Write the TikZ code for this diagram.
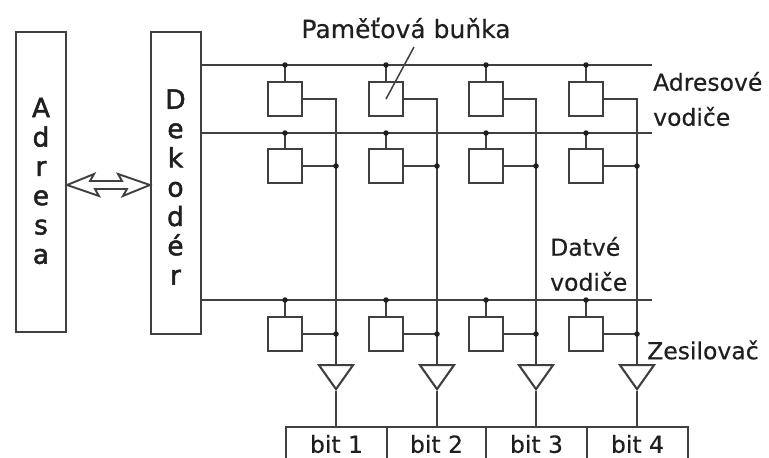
\documentclass[tikz,border=0pt]{standalone}
\usepackage{fontspec}
\setmainfont[FakeBold=0.35]{DejaVu Sans}
\newfontfamily\heavy[FakeBold=1.8]{DejaVu Sans}
\usetikzlibrary{shapes.geometric}
\colorlet{linegray}{black!75}
\tikzset{
    wire/.style={draw=linegray,line width=2.1pt},
    column/.style={wire,anchor=north,minimum width=50,inner sep=0},
    letters/.style={inner sep=0,align=center,text=black!88,font=\heavy\fontsize{26.5}{29.3}\selectfont},
    cell/.style={wire,minimum size=34,inner sep=0},
    dot/.style={circle,fill=black!88,inner sep=0,minimum size=5.5},
    amp/.style={wire,isosceles triangle,isosceles triangle apex angle=70,isosceles triangle stretches,
        shape border rotate=-90,inner sep=0,minimum width=34,minimum height=24,anchor=apex},
    bitbox/.style={wire,anchor=north,minimum height=34,inner sep=0,text=black!88,font=\fontsize{23.5}{28}\selectfont},
    lbl/.style={anchor=west,inner sep=0,align=left,text=black!88,font=\fontsize{23.5}{35}\selectfont}
}
\begin{document}
\begin{tikzpicture}[x=1pt,y=-1pt]
    \useasboundingbox (0,0) rectangle (769,458);

    \node[column,minimum height=300] (adresa) at (41,31) {};
    \node[column,minimum height=302] (dekoder) at (176,31) {};
    \node[letters] (adresatext) at (41,181) {A\\d\\r\\e\\s\\a};
    \node[letters] (dekodertext) at (175.5,187) {D\\e\\k\\o\\d\\é\\r};

    \coordinate (arrl) at (adresa.east |- 0,185);
    \coordinate (arrr) at (dekoder.west |- 0,185);
    \draw[wire,line width=1.9pt,line join=miter] (arrl) -- ++(27,-11) -- ++(-4,7) -- ++(32,0) -- ++(-4,-7)
        -- (arrr) -- ++(-27,11) -- ++(4,-7) -- ++(-32,0) -- ++(4,7) -- cycle;

    \foreach \r/\y in {1/65,2/133,3/300}
    {
        \coordinate (wl\r) at (dekoder.east |- 0,\y);
        \coordinate (wr\r) at (652,\y);
        \draw[wire] (wl\r) -- (wr\r);
    }

    \foreach \c/\x/\d/\w/\b in {1/285/336/101/336.5,2/386/437/99/436.5,3/486/536/101/536.5,4/586/637/101/637.5}
    {
        \node[amp] (amp\c) at (\d,391) {};
        \node[bitbox,minimum width=\w] (bit\c) at (\b,426) {bit \c};
        \draw[wire] (amp\c.apex) -- (amp\c.apex |- bit\c.north);

        \foreach \r/\y in {1/99,2/166,3/334}
        {
            \node[cell] (cell\c\r) at (\x,\y) {};
            \draw[wire] (cell\c\r.north) -- (cell\c\r.north |- wl\r);
            \node[dot] at (cell\c\r.north |- wl\r) {};
        }
        \draw[wire] (cell\c1.east) -| (amp\c.lower side);
        \foreach \r in {2,3}
        {
            \draw[wire] (cell\c\r.east) -- (cell\c\r.east -| amp\c.apex);
            \node[dot] at (cell\c\r.east -| amp\c.apex) {};
        }
    }

    \node[lbl,anchor=center,font=\fontsize{25}{30}\selectfont] (pamet) at (406,28) {Paměťová buňka};
    \coordinate (ptr) at (414,47);
    \draw[wire,line width=1.5pt] (cell21.center) -- (ptr);
    \node[lbl] (adrv) at (653,99) {Adresové\\vodiče};
    \node[lbl] (datv) at (550,264) {Datvé\\vodiče};
    \node[lbl] (zes) at (647,350) {Zesilovač};
\end{tikzpicture}
\end{document}
